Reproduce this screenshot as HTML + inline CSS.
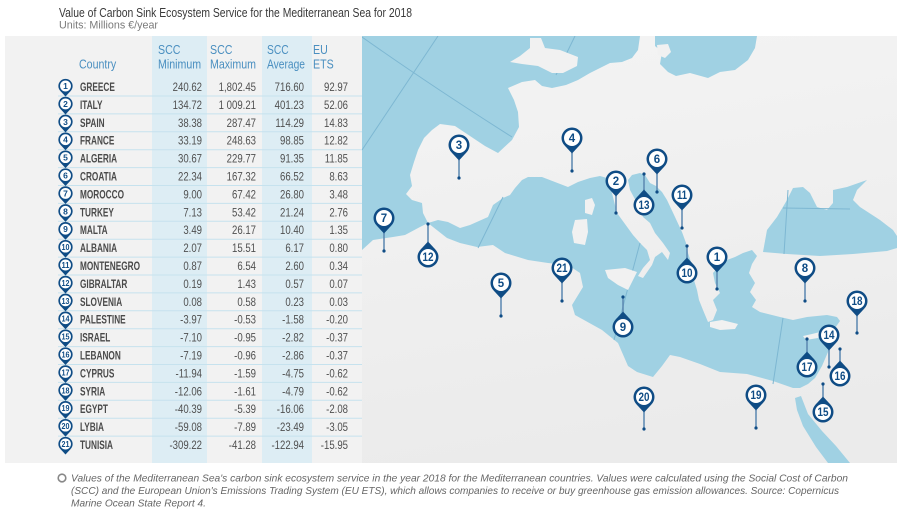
<!DOCTYPE html>
<html><head><meta charset="utf-8"><style>
html,body{margin:0;padding:0;background:#fff;}
svg{display:block;}
</style></head><body>
<svg width="900" height="513" viewBox="0 0 900 513" xmlns="http://www.w3.org/2000/svg" font-family="'Liberation Sans', sans-serif">
<defs>
  <linearGradient id="land" x1="0" y1="0" x2="0.2" y2="1">
    <stop offset="0" stop-color="#f4f4f4"/>
    <stop offset="1" stop-color="#ebebeb"/>
  </linearGradient>
  <clipPath id="mapclip"><rect x="362" y="36" width="535" height="427"/></clipPath>
  <g id="pin">
    <path d="M-7.5,7.35 L0,15.5 L7.5,7.35 Z" fill="#0f4c85"/>
    <circle r="10.5" fill="#0f4c85"/>
    <circle r="8" fill="#fff"/>
  </g>
</defs>

<!-- Title -->
<text x="59" y="17" font-size="12.5" fill="#3a3a3a" textLength="353" lengthAdjust="spacingAndGlyphs">Value of Carbon Sink Ecosystem Service for the Mediterranean Sea for 2018</text>
<text x="59" y="28.5" font-size="11" fill="#7a7a7a" textLength="99" lengthAdjust="spacingAndGlyphs">Units: Millions €/year</text>

<!-- Table panel -->
<rect x="5" y="36" width="357" height="427" fill="#f2f2f2"/>
<rect x="152" y="36" width="55" height="427" fill="#ddedf4"/>
<rect x="262" y="36" width="50" height="427" fill="#ddedf4"/>

<g stroke="#c6e2ee" stroke-width="1">
  <line x1="58" x2="362" y1="96" y2="96"/>
  <line x1="58" x2="362" y1="113.9" y2="113.9"/>
  <line x1="58" x2="362" y1="131.8" y2="131.8"/>
  <line x1="58" x2="362" y1="149.7" y2="149.7"/>
  <line x1="58" x2="362" y1="167.6" y2="167.6"/>
  <line x1="58" x2="362" y1="185.5" y2="185.5"/>
  <line x1="58" x2="362" y1="203.4" y2="203.4"/>
  <line x1="58" x2="362" y1="221.3" y2="221.3"/>
  <line x1="58" x2="362" y1="239.2" y2="239.2"/>
  <line x1="58" x2="362" y1="257.1" y2="257.1"/>
  <line x1="58" x2="362" y1="275" y2="275"/>
  <line x1="58" x2="362" y1="292.9" y2="292.9"/>
  <line x1="58" x2="362" y1="310.8" y2="310.8"/>
  <line x1="58" x2="362" y1="328.7" y2="328.7"/>
  <line x1="58" x2="362" y1="346.6" y2="346.6"/>
  <line x1="58" x2="362" y1="364.5" y2="364.5"/>
  <line x1="58" x2="362" y1="382.4" y2="382.4"/>
  <line x1="58" x2="362" y1="400.3" y2="400.3"/>
  <line x1="58" x2="362" y1="418.2" y2="418.2"/>
  <line x1="58" x2="362" y1="436.1" y2="436.1"/>
</g>

<!-- Headers -->
<g font-size="12.5" fill="#4a8fc0">
  <g transform="translate(79,0) scale(0.85,1)"><text x="0" y="68.5">Country</text></g>
  <g transform="translate(158,0) scale(0.85,1)"><text x="0" y="54">SCC</text><text x="0" y="68.5">Minimum</text></g>
  <g transform="translate(210,0) scale(0.85,1)"><text x="0" y="54">SCC</text><text x="0" y="68.5">Maximum</text></g>
  <g transform="translate(267,0) scale(0.82,1)"><text x="0" y="54">SCC</text><text x="0" y="68.5">Average</text></g>
  <g transform="translate(313,0) scale(0.85,1)"><text x="0" y="54">EU</text><text x="0" y="68.5">ETS</text></g>
</g>

<!-- Country names -->
<g transform="translate(80,0) scale(0.70,1)" font-size="11.8" font-weight="bold" fill="#4a4a4a">
  <text x="0" y="91">GREECE</text>
  <text x="0" y="108.9">ITALY</text>
  <text x="0" y="126.8">SPAIN</text>
  <text x="0" y="144.7">FRANCE</text>
  <text x="0" y="162.6">ALGERIA</text>
  <text x="0" y="180.5">CROATIA</text>
  <text x="0" y="198.4">MOROCCO</text>
  <text x="0" y="216.3">TURKEY</text>
  <text x="0" y="234.2">MALTA</text>
  <text x="0" y="252.1">ALBANIA</text>
  <text x="0" y="270">MONTENEGRO</text>
  <text x="0" y="287.9">GIBRALTAR</text>
  <text x="0" y="305.8">SLOVENIA</text>
  <text x="0" y="323.7">PALESTINE</text>
  <text x="0" y="341.6">ISRAEL</text>
  <text x="0" y="359.5">LEBANON</text>
  <text x="0" y="377.4">CYPRUS</text>
  <text x="0" y="395.3">SYRIA</text>
  <text x="0" y="413.2">EGYPT</text>
  <text x="0" y="431.1">LYBIA</text>
  <text x="0" y="449">TUNISIA</text>
</g>

<!-- SCC Minimum -->
<g transform="translate(202,0) scale(0.80,1)" font-size="12" fill="#505050" text-anchor="end">
  <text x="0" y="91">240.62</text><text x="0" y="108.9">134.72</text><text x="0" y="126.8">38.38</text>
  <text x="0" y="144.7">33.19</text><text x="0" y="162.6">30.67</text><text x="0" y="180.5">22.34</text>
  <text x="0" y="198.4">9.00</text><text x="0" y="216.3">7.13</text><text x="0" y="234.2">3.49</text>
  <text x="0" y="252.1">2.07</text><text x="0" y="270">0.87</text><text x="0" y="287.9">0.19</text>
  <text x="0" y="305.8">0.08</text><text x="0" y="323.7">-3.97</text><text x="0" y="341.6">-7.10</text>
  <text x="0" y="359.5">-7.19</text><text x="0" y="377.4">-11.94</text><text x="0" y="395.3">-12.06</text>
  <text x="0" y="413.2">-40.39</text><text x="0" y="431.1">-59.08</text><text x="0" y="449">-309.22</text>
</g>
<!-- SCC Maximum -->
<g transform="translate(256,0) scale(0.80,1)" font-size="12" fill="#505050" text-anchor="end">
  <text x="0" y="91">1,802.45</text><text x="0" y="108.9">1 009.21</text><text x="0" y="126.8">287.47</text>
  <text x="0" y="144.7">248.63</text><text x="0" y="162.6">229.77</text><text x="0" y="180.5">167.32</text>
  <text x="0" y="198.4">67.42</text><text x="0" y="216.3">53.42</text><text x="0" y="234.2">26.17</text>
  <text x="0" y="252.1">15.51</text><text x="0" y="270">6.54</text><text x="0" y="287.9">1.43</text>
  <text x="0" y="305.8">0.58</text><text x="0" y="323.7">-0.53</text><text x="0" y="341.6">-0.95</text>
  <text x="0" y="359.5">-0.96</text><text x="0" y="377.4">-1.59</text><text x="0" y="395.3">-1.61</text>
  <text x="0" y="413.2">-5.39</text><text x="0" y="431.1">-7.89</text><text x="0" y="449">-41.28</text>
</g>
<!-- SCC Average -->
<g transform="translate(304,0) scale(0.80,1)" font-size="12" fill="#505050" text-anchor="end">
  <text x="0" y="91">716.60</text><text x="0" y="108.9">401.23</text><text x="0" y="126.8">114.29</text>
  <text x="0" y="144.7">98.85</text><text x="0" y="162.6">91.35</text><text x="0" y="180.5">66.52</text>
  <text x="0" y="198.4">26.80</text><text x="0" y="216.3">21.24</text><text x="0" y="234.2">10.40</text>
  <text x="0" y="252.1">6.17</text><text x="0" y="270">2.60</text><text x="0" y="287.9">0.57</text>
  <text x="0" y="305.8">0.23</text><text x="0" y="323.7">-1.58</text><text x="0" y="341.6">-2.82</text>
  <text x="0" y="359.5">-2.86</text><text x="0" y="377.4">-4.75</text><text x="0" y="395.3">-4.79</text>
  <text x="0" y="413.2">-16.06</text><text x="0" y="431.1">-23.49</text><text x="0" y="449">-122.94</text>
</g>
<!-- EU ETS -->
<g transform="translate(348,0) scale(0.80,1)" font-size="12" fill="#505050" text-anchor="end">
  <text x="0" y="91">92.97</text><text x="0" y="108.9">52.06</text><text x="0" y="126.8">14.83</text>
  <text x="0" y="144.7">12.82</text><text x="0" y="162.6">11.85</text><text x="0" y="180.5">8.63</text>
  <text x="0" y="198.4">3.48</text><text x="0" y="216.3">2.76</text><text x="0" y="234.2">1.35</text>
  <text x="0" y="252.1">0.80</text><text x="0" y="270">0.34</text><text x="0" y="287.9">0.07</text>
  <text x="0" y="305.8">0.03</text><text x="0" y="323.7">-0.20</text><text x="0" y="341.6">-0.37</text>
  <text x="0" y="359.5">-0.37</text><text x="0" y="377.4">-0.62</text><text x="0" y="395.3">-0.62</text>
  <text x="0" y="413.2">-2.08</text><text x="0" y="431.1">-3.05</text><text x="0" y="449">-15.95</text>
</g>

<!-- Table pins -->
<g>
  <use href="#pin" transform="translate(65.5,86) scale(0.68)"/>
  <use href="#pin" transform="translate(65.5,103.9) scale(0.68)"/>
  <use href="#pin" transform="translate(65.5,121.8) scale(0.68)"/>
  <use href="#pin" transform="translate(65.5,139.7) scale(0.68)"/>
  <use href="#pin" transform="translate(65.5,157.6) scale(0.68)"/>
  <use href="#pin" transform="translate(65.5,175.5) scale(0.68)"/>
  <use href="#pin" transform="translate(65.5,193.4) scale(0.68)"/>
  <use href="#pin" transform="translate(65.5,211.3) scale(0.68)"/>
  <use href="#pin" transform="translate(65.5,229.2) scale(0.68)"/>
  <use href="#pin" transform="translate(65.5,247.1) scale(0.68)"/>
  <use href="#pin" transform="translate(65.5,265) scale(0.68)"/>
  <use href="#pin" transform="translate(65.5,282.9) scale(0.68)"/>
  <use href="#pin" transform="translate(65.5,300.8) scale(0.68)"/>
  <use href="#pin" transform="translate(65.5,318.7) scale(0.68)"/>
  <use href="#pin" transform="translate(65.5,336.6) scale(0.68)"/>
  <use href="#pin" transform="translate(65.5,354.5) scale(0.68)"/>
  <use href="#pin" transform="translate(65.5,372.4) scale(0.68)"/>
  <use href="#pin" transform="translate(65.5,390.3) scale(0.68)"/>
  <use href="#pin" transform="translate(65.5,408.2) scale(0.68)"/>
  <use href="#pin" transform="translate(65.5,426.1) scale(0.68)"/>
  <use href="#pin" transform="translate(65.5,444) scale(0.68)"/>
</g>
<g font-size="8.5" font-weight="bold" fill="#0f4c85" text-anchor="middle">
  <text x="65.5" y="89">1</text><text x="65.5" y="106.9">2</text><text x="65.5" y="124.8">3</text>
  <text x="65.5" y="142.7">4</text><text x="65.5" y="160.6">5</text><text x="65.5" y="178.5">6</text>
  <text x="65.5" y="196.4">7</text><text x="65.5" y="214.3">8</text><text x="65.5" y="232.2">9</text>
  <text x="65.5" y="250.1" textLength="8" lengthAdjust="spacingAndGlyphs">10</text>
  <text x="65.5" y="268" textLength="8" lengthAdjust="spacingAndGlyphs">11</text>
  <text x="65.5" y="285.9" textLength="8" lengthAdjust="spacingAndGlyphs">12</text>
  <text x="65.5" y="303.8" textLength="8" lengthAdjust="spacingAndGlyphs">13</text>
  <text x="65.5" y="321.7" textLength="8" lengthAdjust="spacingAndGlyphs">14</text>
  <text x="65.5" y="339.6" textLength="8" lengthAdjust="spacingAndGlyphs">15</text>
  <text x="65.5" y="357.5" textLength="8" lengthAdjust="spacingAndGlyphs">16</text>
  <text x="65.5" y="375.4" textLength="8" lengthAdjust="spacingAndGlyphs">17</text>
  <text x="65.5" y="393.3" textLength="8" lengthAdjust="spacingAndGlyphs">18</text>
  <text x="65.5" y="411.2" textLength="8" lengthAdjust="spacingAndGlyphs">19</text>
  <text x="65.5" y="429.1" textLength="8" lengthAdjust="spacingAndGlyphs">20</text>
  <text x="65.5" y="447" textLength="8" lengthAdjust="spacingAndGlyphs">21</text>
</g>

<!-- MAP -->
<g clip-path="url(#mapclip)">
  <rect x="362" y="36" width="535" height="427" fill="url(#land)"/>
  <g fill="#a0d1e3">
    <!-- Atlantic / North Sea -->
    <path d="M362,36 L640,36 L638,50 L632,58 L622,62 L610,63 L600,68 L590,73 L578,80 L566,85 L552,88 L542,86 L535,80 L522,82 L508,88 L514,100 L518,112 L519,127 L512,140 L498,153 L485,146 L470,136 L455,126 L440,124 L432,130 L424,138 L418,150 L414,162 L410,175 L412,186 L406,194 L412,200 L422,203 L423,213 L428,223 L420,227 L405,235 L393,237 L373,240 L362,250 Z"/>
    <!-- Mediterranean -->
    <path d="M428,223 L438,220 L448,222 L460,228 L470,225 L488,217 L493,205 L503,198 L510,195 L515,188 L522,180 L528,177 L542,177 L555,182 L568,187 L578,182 L590,178 L600,176 L607,178 L612,193 L617,213 L633,235 L640,243 L647,250 L650,260 L643,268 L638,276 L643,278 L652,265 L655,257 L662,252 L668,260 L670,253 L663,243 L655,233 L650,223 L643,217 L637,203 L630,190 L628,180 L632,175 L640,173 L645,175 L650,183 L656,186 L662,192 L667,200 L675,217 L682,232 L686,243 L688,253 L692,265 L693,277 L697,290 L699,300 L703,310 L708,322 L713,320 L717,310 L713,300 L720,293 L715,283 L713,273 L720,265 L727,260 L735,257 L743,253 L752,250 L757,256 L752,264 L749,273 L755,283 L750,292 L756,300 L752,307 L760,312 L780,317 L793,320 L807,317 L827,315 L837,317 L840,321 L835,328 L831,340 L828,352 L822,366 L815,378 L808,384 L800,388 L793,388 L773,381 L747,374 L720,372 L700,364 L680,357 L670,355 L662,366 L653,377 L637,372 L628,366 L618,343 L602,330 L575,315 L572,305 L583,287 L580,273 L568,265 L548,263 L528,260 L505,253 L493,245 L477,247 L460,243 L447,238 L433,227 Z"/>
    <!-- Black Sea -->
    <path d="M763,252 L767,230 L777,217 L787,200 L793,188 L803,187 L810,193 L817,207 L827,210 L833,203 L833,190 L847,187 L867,180 L857,190 L853,200 L860,207 L880,220 L893,230 L897,236 L897,248 L887,251 L853,254 L820,256 L787,254 Z"/>
    <!-- Baltic -->
    <path d="M655,36 L757,36 L755,48 L748,60 L735,70 L720,72 L708,78 L690,73 L676,76 L668,72 L660,64 L662,52 L655,46 Z"/>
    <!-- Red Sea -->
    <path d="M795,398 L801,396 L808,414 L822,431 L836,446 L850,463 L828,463 L816,447 L803,426 L797,410 Z"/>
  </g>
  <!-- graticule lines -->
  <g stroke="#7db7d2" stroke-width="1" fill="none">
    <path d="M362,37 Q430,85 512,137"/>
    <path d="M438,36 L362,150"/>
    <path d="M575,36 L556,75"/>
    <path d="M503,197 L478,248"/>
    <path d="M640,243 L614,340"/>
    <path d="M783,318 L773,384"/>
    <path d="M788,190 L784,254"/>
    <path d="M783,208 L850,209"/>
  </g>
  <!-- islands -->
  <g fill="#f1f1f1">
    <path d="M510,62 L522,64 L538,66 L552,73 L563,73 L577,66 L578,57 L560,50 L545,48 L541,38 L530,38 L530,48 L520,56 Z"/>
    <path d="M585,200 L592,198 L595,205 L592,215 L585,213 Z"/>
    <path d="M575,220 L587,219 L588,232 L585,245 L574,243 L572,232 Z"/>
    <path d="M605,270 L625,268 L637,272 L632,282 L628,290 L618,285 L608,278 Z"/>
    <path d="M710,322 L722,320 L738,324 L735,329 L720,330 L710,327 Z"/>
    <path d="M803,336 L812,334 L824,331 L818,338 L806,340 Z"/>
    <path d="M657,45 L668,44 L671,52 L665,58 L658,55 Z"/>
  </g>

  <!-- pin lines -->
  <g stroke="#5a87b0" stroke-width="1.5">
    <line x1="459" y1="160" x2="459" y2="178"/>
    <line x1="572" y1="153" x2="572" y2="171"/>
    <line x1="616" y1="196" x2="616" y2="213"/>
    <line x1="384" y1="233" x2="384" y2="251"/>
    <line x1="657" y1="174" x2="657" y2="192"/>
    <line x1="682" y1="210" x2="682" y2="228"/>
    <line x1="501" y1="298" x2="501" y2="316"/>
    <line x1="562" y1="283" x2="562" y2="301"/>
    <line x1="717" y1="272" x2="717" y2="289"/>
    <line x1="805" y1="283" x2="805" y2="301"/>
    <line x1="857" y1="316" x2="857" y2="333"/>
    <line x1="829" y1="350" x2="829" y2="367"/>
    <line x1="644" y1="412" x2="644" y2="429"/>
    <line x1="756" y1="410" x2="756" y2="428"/>
    <line x1="428" y1="242" x2="428" y2="224"/>
    <line x1="644" y1="190" x2="644" y2="174"/>
    <line x1="623" y1="312" x2="623" y2="297"/>
    <line x1="687" y1="258" x2="687" y2="246"/>
    <line x1="807" y1="352" x2="807" y2="339"/>
    <line x1="840" y1="361" x2="840" y2="349"/>
    <line x1="823" y1="397" x2="823" y2="384"/>
  </g>
  <g fill="#0f4c85">
    <circle cx="459" cy="178" r="1.6"/><circle cx="572" cy="171" r="1.6"/><circle cx="616" cy="213" r="1.6"/>
    <circle cx="384" cy="251" r="1.6"/><circle cx="657" cy="192" r="1.6"/><circle cx="682" cy="228" r="1.6"/>
    <circle cx="501" cy="316" r="1.6"/><circle cx="562" cy="301" r="1.6"/><circle cx="717" cy="289" r="1.6"/>
    <circle cx="805" cy="301" r="1.6"/><circle cx="857" cy="333" r="1.6"/><circle cx="829" cy="367" r="1.6"/>
    <circle cx="644" cy="429" r="1.6"/><circle cx="756" cy="428" r="1.6"/><circle cx="428" cy="224" r="1.6"/>
    <circle cx="644" cy="174" r="1.6"/><circle cx="623" cy="297" r="1.6"/><circle cx="687" cy="246" r="1.6"/>
    <circle cx="807" cy="339" r="1.6"/><circle cx="840" cy="349" r="1.6"/><circle cx="823" cy="384" r="1.6"/>
  </g>
  <!-- pins down -->
  <use href="#pin" transform="translate(459,145)"/>
  <use href="#pin" transform="translate(572,138)"/>
  <use href="#pin" transform="translate(616,181)"/>
  <use href="#pin" transform="translate(384,218)"/>
  <use href="#pin" transform="translate(657,159)"/>
  <use href="#pin" transform="translate(682,195)"/>
  <use href="#pin" transform="translate(501,283)"/>
  <use href="#pin" transform="translate(562,268)"/>
  <use href="#pin" transform="translate(717,257)"/>
  <use href="#pin" transform="translate(805,268)"/>
  <use href="#pin" transform="translate(857,301)"/>
  <use href="#pin" transform="translate(829,335)"/>
  <use href="#pin" transform="translate(644,397)"/>
  <use href="#pin" transform="translate(756,395)"/>
  <!-- pins up -->
  <use href="#pin" transform="translate(428,257) rotate(180)"/>
  <use href="#pin" transform="translate(644,205) rotate(180)"/>
  <use href="#pin" transform="translate(623,327) rotate(180)"/>
  <use href="#pin" transform="translate(687,273) rotate(180)"/>
  <use href="#pin" transform="translate(807,367) rotate(180)"/>
  <use href="#pin" transform="translate(840,376) rotate(180)"/>
  <use href="#pin" transform="translate(823,412) rotate(180)"/>
  <!-- pin numbers -->
  <g font-size="11.5" font-weight="bold" fill="#0f4c85" text-anchor="middle">
    <text x="459" y="149">3</text>
    <text x="572" y="142">4</text>
    <text x="616" y="185">2</text>
    <text x="384" y="222">7</text>
    <text x="657" y="163">6</text>
    <text x="682" y="199" textLength="10" lengthAdjust="spacingAndGlyphs">11</text>
    <text x="501" y="287">5</text>
    <text x="562" y="272" textLength="11" lengthAdjust="spacingAndGlyphs">21</text>
    <text x="717" y="261">1</text>
    <text x="805" y="272">8</text>
    <text x="857" y="305" textLength="11" lengthAdjust="spacingAndGlyphs">18</text>
    <text x="829" y="339" textLength="11" lengthAdjust="spacingAndGlyphs">14</text>
    <text x="644" y="401" textLength="11" lengthAdjust="spacingAndGlyphs">20</text>
    <text x="756" y="399" textLength="11" lengthAdjust="spacingAndGlyphs">19</text>
    <text x="428" y="261" textLength="11" lengthAdjust="spacingAndGlyphs">12</text>
    <text x="644" y="209" textLength="11" lengthAdjust="spacingAndGlyphs">13</text>
    <text x="623" y="331">9</text>
    <text x="687" y="277" textLength="11" lengthAdjust="spacingAndGlyphs">10</text>
    <text x="807" y="371" textLength="11" lengthAdjust="spacingAndGlyphs">17</text>
    <text x="840" y="380" textLength="11" lengthAdjust="spacingAndGlyphs">16</text>
    <text x="823" y="416" textLength="11" lengthAdjust="spacingAndGlyphs">15</text>
  </g>
</g>

<!-- Footer -->
<circle cx="62" cy="478" r="3.8" fill="none" stroke="#888" stroke-width="1.6"/>
<g font-size="10.5" font-style="italic" fill="#666">
  <text x="71" y="481.5" textLength="777" lengthAdjust="spacingAndGlyphs">Values of the Mediterranean Sea's carbon sink ecosystem service in the year 2018 for the Mediterranean countries. Values were calculated using the Social Cost of Carbon</text>
  <text x="71" y="494" textLength="768" lengthAdjust="spacingAndGlyphs">(SCC) and the European Union's Emissions Trading System (EU ETS), which allows companies to receive or buy greenhouse gas emission allowances. Source: Copernicus</text>
  <text x="71" y="506.5" textLength="135" lengthAdjust="spacingAndGlyphs">Marine Ocean State Report 4.</text>
</g>
</svg>
</body></html>
